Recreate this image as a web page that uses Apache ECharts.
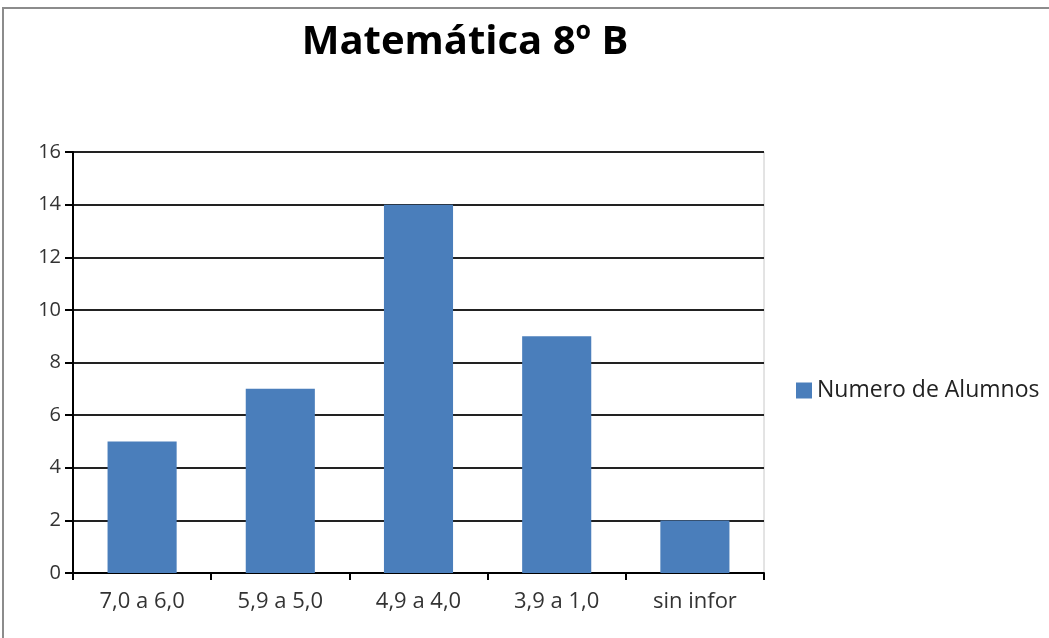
<!DOCTYPE html>
<html>
<head>
<meta charset="utf-8">
<script src="https://cdn.jsdelivr.net/npm/echarts@6/dist/echarts.min.js"></script>
<style>
  html, body { margin: 0; padding: 0; background: #fff; }
  #chart { width: 1049px; height: 638px; }
</style>
</head>
<body>
<div id="chart"></div>
<script>
// 数据
var categories = ['7,0 a 6,0', '5,9 a 5,0', '4,9 a 4,0', '3,9 a 1,0', 'sin infor'];
var alumnos = [5, 7, 14, 9, 2];
var seriesName = 'Numero de Alumnos';
var titleText = 'Matemática 8º B';

var chart = echarts.init(document.getElementById('chart'));

var option = {
    animation: false,
    textStyle: { fontFamily: 'Open Sans' },
    title: {
        text: titleText,
        left: 460,
        top: 18,
        textAlign: 'center',
        textStyle: { fontFamily: 'Open Sans', fontSize: 40, fontWeight: 'bold', color: '#000' }
    },
    legend: {
        data: [seriesName],
        left: 791,
        top: 374,
        itemWidth: 16,
        itemHeight: 16,
        itemGap: 8,
        icon: 'rect',
        textStyle: { fontSize: 23, color: '#222', fontFamily: 'Open Sans' }
    },
    grid: {
        left: 73,
        right: 285,
        top: 152,
        bottom: 65,
        show: true,
        borderColor: '#c8c8c8',
        borderWidth: 1
    },
    xAxis: {
        type: 'category',
        data: categories,
        axisLine: { lineStyle: { color: '#000', width: 2 } },
        axisTick: { show: true, length: 7, lineStyle: { color: '#000', width: 2 } },
        axisLabel: { fontSize: 22, color: '#333', margin: 18 }
    },
    yAxis: {
        type: 'value',
        min: 0,
        max: 16,
        interval: 2,
        axisLine: { show: true, lineStyle: { color: '#000', width: 2 } },
        axisTick: { show: true, length: 8, lineStyle: { color: '#000', width: 2 } },
        axisLabel: { fontSize: 20, color: '#333', margin: 12 },
        splitLine: { lineStyle: { color: '#222', width: 2 } }
    },
    series: [{
        name: seriesName,
        type: 'bar',
        data: alumnos,
        barCategoryGap: '50%',
        itemStyle: { color: '#4a7ebb' }
    }],
    graphic: [{
        type: 'rect',
        shape: { x: 3, y: 8, width: 1100, height: 700 },
        style: { fill: 'none', stroke: '#8c8c8c', lineWidth: 2 },
        silent: true
    }]
};

chart.setOption(option);
</script>
</body>
</html>
